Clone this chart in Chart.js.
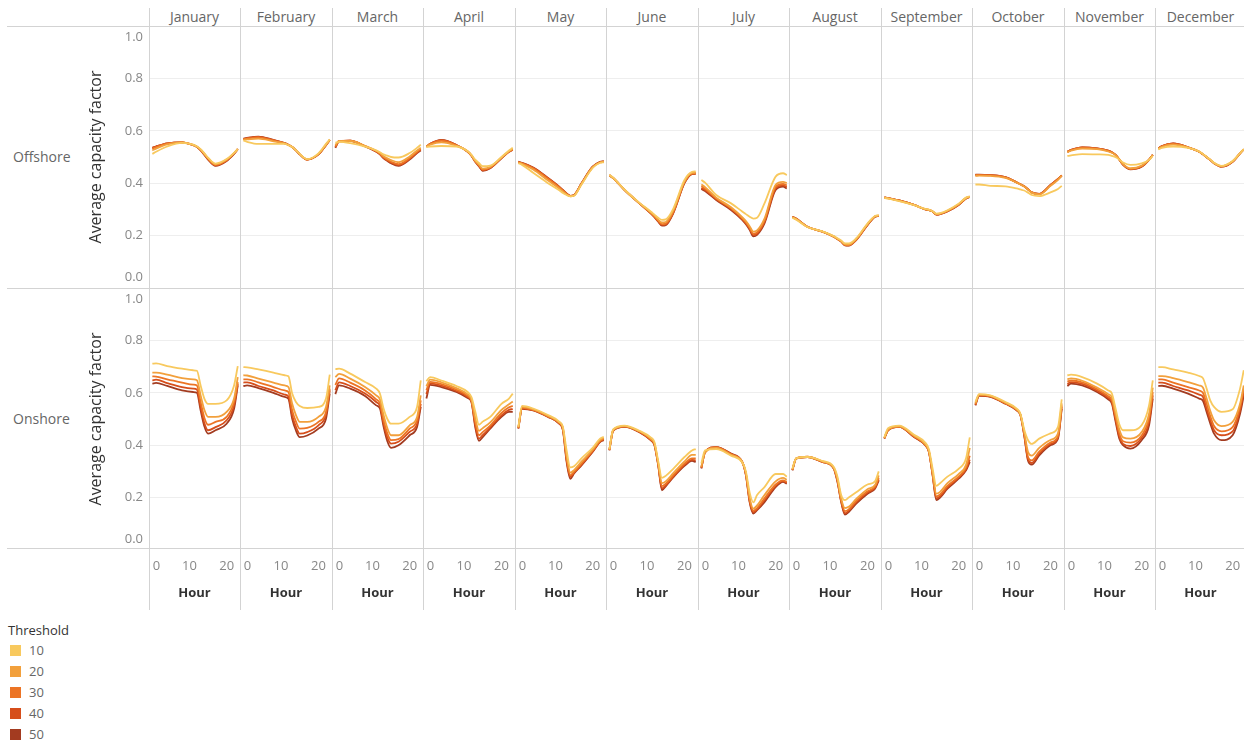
<!DOCTYPE html>
<html>
<head>
<meta charset="utf-8">
<script src="https://cdn.jsdelivr.net/npm/chart.js@4.4.1/dist/chart.umd.min.js"></script>
<style>
  body { margin: 0; background: #fff; font-family: "Open Sans", sans-serif; }
  #stage { position: relative; width: 1244px; height: 747px; overflow: hidden; }
  canvas { position: absolute; z-index: 1; }
  .vline { position: absolute; width: 1px; background: #d3d3d3; z-index: 2; }
  .hline { position: absolute; height: 1px; background: #d3d3d3; z-index: 2; }
  .month { position: absolute; top: 8px; height: 18px; line-height: 18px; text-align: center; font-size: 14px; color: #666; }
  .rowlabel { position: absolute; left: 13px; font-size: 14px; color: #666; line-height: 18px; }
  .legend-title { position: absolute; left: 8px; top: 621px; font-size: 13px; color: #333; }
  .legend-item { position: absolute; left: 10px; font-size: 13px; color: #666; line-height: 18px; }
  .legend-item span { display: inline-block; width: 11px; height: 11px; margin-right: 8px; vertical-align: -1px; }
</style>
</head>
<body>
<div id="stage"></div>
<script>
// ---- data ----
const MONTHS = ["January", "February", "March", "April", "May", "June",
  "July", "August", "September", "October", "November", "December"];
const ROWS = ["Offshore", "Onshore"];
const THRESHOLDS = [10, 20, 30, 40, 50];
const HOURS = [0, 1, 4, 8, 11, 12, 13, 14, 15, 17, 20, 22, 23];
const Y_TICKS = [0, 0.2, 0.4, 0.6, 0.8, 1.0];
const HOUR_TICKS = [0, 10, 20];

// offshore, one row per threshold (10, 20, 30, 40, 50), values at HOURS
const OFF_JAN = [
  [.512,.52,.54,.554,.547,.54,.53,.514,.498,.475,.492,.516,.53],
  [.525,.532,.548,.556,.546,.54,.528,.512,.496,.472,.49,.515,.53],
  [.532,.538,.551,.556,.546,.539,.527,.511,.494,.47,.488,.514,.53],
  [.535,.54,.552,.556,.545,.538,.526,.51,.492,.468,.487,.513,.53],
  [.535,.54,.552,.556,.545,.538,.525,.508,.49,.466,.485,.512,.53]];
const OFF_FEB = [
  [.563,.558,.55,.55,.55,.545,.538,.526,.512,.492,.514,.55,.567],
  [.566,.567,.57,.56,.552,.546,.538,.525,.511,.491,.512,.547,.565],
  [.567,.57,.575,.563,.552,.546,.538,.525,.511,.49,.511,.546,.565],
  [.568,.572,.577,.564,.553,.547,.538,.525,.51,.49,.51,.545,.565],
  [.57,.573,.578,.565,.553,.547,.538,.525,.51,.49,.51,.545,.565]];
const OFF_MAR = [
  [.555,.558,.553,.54,.525,.518,.51,.505,.5,.498,.515,.535,.547],
  [.545,.561,.561,.543,.524,.515,.503,.495,.488,.48,.502,.525,.535],
  [.54,.561,.562,.542,.522,.512,.499,.49,.482,.473,.496,.52,.531],
  [.538,.56,.562,.541,.521,.511,.497,.487,.479,.469,.493,.517,.528],
  [.535,.56,.562,.54,.52,.51,.495,.485,.476,.466,.49,.515,.525]];
const OFF_APR = [
  [.538,.54,.542,.54,.522,.508,.49,.477,.465,.467,.5,.525,.535],
  [.54,.547,.556,.543,.522,.507,.486,.471,.456,.462,.498,.522,.531],
  [.54,.549,.562,.545,.521,.506,.484,.468,.452,.46,.497,.521,.529],
  [.54,.55,.564,.546,.52,.505,.483,.466,.449,.458,.496,.52,.528],
  [.54,.55,.565,.546,.52,.505,.482,.465,.447,.457,.495,.52,.527]];
const OFF_MAY = [
  [.476,.47,.44,.4,.373,.363,.355,.35,.352,.395,.458,.478,.48],
  [.479,.474,.452,.41,.38,.368,.357,.35,.353,.397,.46,.479,.481],
  [.48,.476,.457,.417,.385,.372,.359,.351,.354,.398,.461,.48,.482],
  [.481,.477,.459,.419,.386,.373,.36,.352,.355,.399,.462,.481,.483],
  [.482,.478,.46,.42,.387,.374,.361,.352,.355,.4,.463,.482,.484]];
const OFF_JUN = [
  [.432,.421,.376,.325,.292,.28,.268,.26,.262,.302,.412,.443,.445],
  [.43,.42,.375,.324,.289,.276,.261,.25,.252,.295,.407,.439,.44],
  [.43,.42,.375,.323,.287,.273,.257,.244,.246,.29,.404,.437,.438],
  [.43,.42,.375,.323,.286,.271,.255,.241,.243,.287,.402,.436,.437],
  [.43,.42,.375,.323,.285,.27,.253,.238,.24,.285,.4,.435,.436]];
const OFF_JUL = [
  [.412,.402,.355,.323,.292,.282,.272,.265,.268,.323,.425,.438,.431],
  [.395,.385,.345,.308,.27,.255,.236,.215,.22,.265,.394,.405,.4],
  [.388,.379,.342,.304,.266,.25,.23,.207,.212,.257,.386,.397,.392],
  [.382,.374,.339,.301,.263,.246,.226,.202,.207,.252,.38,.392,.386],
  [.378,.37,.336,.298,.26,.243,.222,.197,.203,.247,.374,.387,.38]];
const OFF_AUG = [
  [.268,.261,.233,.216,.198,.19,.181,.17,.17,.19,.246,.275,.278],
  [.27,.263,.233,.215,.197,.188,.179,.167,.166,.187,.244,.274,.277],
  [.271,.264,.234,.215,.196,.187,.178,.165,.164,.185,.242,.273,.276],
  [.272,.265,.234,.215,.196,.187,.177,.164,.163,.184,.241,.272,.275],
  [.272,.265,.234,.215,.196,.187,.177,.163,.162,.183,.24,.272,.275]];
const OFF_SEP = [
  [.344,.341,.332,.316,.302,.299,.293,.284,.286,.297,.322,.345,.35],
  [.345,.342,.333,.317,.301,.298,.292,.282,.284,.295,.32,.344,.349],
  [.346,.343,.334,.317,.301,.298,.292,.281,.283,.294,.319,.343,.349],
  [.346,.343,.334,.317,.3,.297,.292,.28,.282,.293,.318,.342,.348],
  [.346,.343,.334,.317,.3,.297,.292,.28,.282,.292,.317,.342,.348]];
const OFF_OCT = [
  [.395,.395,.39,.388,.38,.376,.372,.364,.355,.351,.365,.378,.39],
  [.428,.429,.428,.42,.402,.395,.387,.376,.364,.357,.39,.413,.428],
  [.43,.431,.43,.422,.403,.396,.388,.377,.365,.358,.392,.415,.43],
  [.432,.432,.431,.423,.403,.396,.388,.377,.365,.359,.393,.416,.43],
  [.433,.433,.431,.423,.403,.396,.388,.377,.365,.359,.393,.416,.429]];
const OFF_NOV = [
  [.504,.506,.511,.51,.508,.504,.499,.49,.479,.47,.476,.489,.504],
  [.518,.524,.532,.53,.521,.516,.507,.491,.473,.457,.467,.49,.507],
  [.52,.526,.536,.532,.523,.517,.508,.491,.472,.455,.465,.49,.508],
  [.52,.527,.537,.533,.524,.518,.508,.49,.471,.454,.464,.49,.508],
  [.52,.527,.537,.533,.524,.518,.508,.49,.47,.453,.463,.489,.508]];
const OFF_DEC = [
  [.529,.535,.54,.535,.521,.511,.5,.49,.478,.466,.485,.515,.53],
  [.531,.539,.547,.537,.521,.511,.5,.489,.477,.465,.484,.514,.529],
  [.532,.541,.55,.537,.52,.51,.5,.489,.477,.464,.483,.514,.529],
  [.533,.542,.552,.537,.52,.51,.499,.488,.476,.463,.482,.514,.529],
  [.533,.542,.552,.537,.52,.51,.499,.488,.476,.463,.482,.514,.529]];

// onshore
const ON_JAN = [
  [.711,.712,.702,.692,.686,.684,.628,.578,.558,.558,.571,.628,.702],
  [.677,.677,.669,.656,.651,.648,.59,.535,.508,.508,.527,.578,.66],
  [.663,.662,.651,.639,.631,.628,.565,.505,.478,.489,.508,.565,.641],
  [.647,.65,.637,.622,.616,.612,.546,.485,.457,.469,.495,.552,.635],
  [.635,.638,.626,.609,.603,.6,.533,.472,.444,.457,.482,.539,.628]];
const ON_FEB = [
  [.698,.697,.689,.677,.667,.663,.597,.565,.55,.542,.546,.578,.669],
  [.667,.666,.654,.639,.628,.622,.558,.515,.489,.489,.508,.546,.628],
  [.651,.651,.64,.622,.609,.603,.533,.49,.463,.466,.489,.527,.616],
  [.639,.64,.626,.609,.593,.586,.514,.47,.444,.45,.476,.517,.609],
  [.626,.628,.618,.6,.584,.577,.501,.456,.431,.437,.463,.501,.597]];
const ON_MAR = [
  [.69,.692,.673,.641,.616,.597,.539,.5,.482,.482,.508,.546,.647],
  [.66,.672,.654,.622,.59,.575,.514,.465,.438,.438,.476,.508,.59],
  [.63,.655,.639,.609,.575,.56,.495,.445,.419,.423,.463,.495,.571],
  [.61,.64,.626,.597,.565,.55,.482,.43,.406,.413,.451,.482,.558],
  [.595,.628,.616,.588,.552,.54,.47,.415,.39,.4,.438,.47,.546]];
const ON_APR = [
  [.645,.66,.647,.626,.603,.584,.53,.478,.49,.508,.558,.578,.597],
  [.625,.65,.64,.618,.594,.575,.505,.455,.465,.487,.535,.556,.567],
  [.61,.642,.633,.612,.588,.57,.49,.438,.45,.475,.523,.545,.55],
  [.595,.636,.627,.607,.584,.567,.478,.425,.438,.468,.514,.535,.538],
  [.578,.63,.622,.603,.58,.565,.47,.417,.431,.463,.508,.527,.527]];
const ON_MAY = [
  [.47,.55,.54,.515,.49,.47,.38,.315,.32,.35,.39,.425,.432],
  [.468,.546,.537,.512,.487,.466,.36,.295,.305,.337,.383,.42,.428],
  [.466,.543,.535,.51,.485,.462,.35,.285,.298,.33,.379,.416,.425],
  [.464,.541,.534,.509,.483,.46,.342,.279,.295,.326,.376,.414,.422],
  [.463,.539,.533,.508,.482,.457,.336,.272,.292,.323,.374,.412,.419]];
const ON_JUN = [
  [.385,.46,.475,.455,.43,.412,.34,.275,.283,.31,.355,.38,.385],
  [.383,.458,.473,.453,.425,.407,.332,.255,.262,.293,.338,.363,.363],
  [.382,.457,.472,.452,.422,.404,.328,.244,.253,.285,.33,.35,.35],
  [.381,.456,.471,.451,.42,.402,.325,.235,.247,.28,.325,.344,.342],
  [.38,.455,.47,.45,.419,.4,.323,.228,.243,.277,.321,.34,.336]];
const ON_JUL = [
  [.33,.38,.385,.36,.335,.3,.22,.182,.21,.24,.29,.29,.28],
  [.318,.372,.39,.363,.336,.293,.2,.158,.17,.21,.262,.275,.268],
  [.315,.373,.392,.365,.336,.29,.192,.15,.16,.197,.25,.266,.26],
  [.313,.373,.393,.366,.336,.287,.187,.144,.155,.19,.245,.263,.256],
  [.311,.374,.393,.368,.336,.285,.183,.139,.152,.183,.24,.26,.253]];
const ON_AUG = [
  [.31,.35,.355,.34,.318,.28,.21,.19,.2,.22,.25,.262,.3],
  [.307,.35,.356,.338,.314,.272,.196,.16,.165,.195,.232,.248,.285],
  [.306,.349,.356,.337,.313,.266,.19,.148,.155,.188,.224,.242,.276],
  [.305,.349,.355,.336,.312,.263,.186,.14,.15,.182,.219,.238,.27],
  [.304,.349,.355,.336,.311,.26,.183,.135,.145,.177,.215,.234,.266]];
const ON_SEP = [
  [.43,.465,.475,.44,.41,.385,.31,.245,.255,.28,.31,.35,.43],
  [.428,.46,.472,.436,.404,.378,.295,.215,.222,.255,.29,.325,.39],
  [.427,.458,.471,.434,.402,.376,.29,.205,.212,.245,.28,.315,.36],
  [.426,.457,.47,.432,.401,.375,.287,.197,.205,.239,.276,.309,.345],
  [.425,.457,.47,.431,.4,.374,.285,.19,.2,.234,.272,.304,.336]];
const ON_OCT = [
  [.565,.595,.59,.565,.54,.52,.46,.42,.405,.425,.445,.47,.575],
  [.56,.593,.588,.562,.537,.517,.45,.375,.36,.39,.42,.445,.56],
  [.557,.591,.587,.56,.535,.516,.444,.355,.342,.375,.41,.435,.552],
  [.554,.59,.585,.559,.534,.515,.44,.347,.332,.368,.405,.43,.545],
  [.552,.588,.584,.558,.533,.514,.438,.342,.326,.361,.4,.425,.539]];
const ON_NOV = [
  [.667,.669,.66,.635,.609,.597,.539,.48,.457,.457,.476,.552,.647],
  [.652,.655,.646,.62,.595,.582,.52,.46,.43,.425,.45,.52,.62],
  [.643,.647,.64,.614,.587,.572,.508,.445,.415,.41,.437,.505,.603],
  [.634,.641,.634,.608,.581,.565,.498,.433,.405,.397,.428,.49,.59],
  [.626,.635,.628,.603,.575,.558,.489,.425,.4,.387,.419,.476,.578]];
const ON_DEC = [
  [.698,.698,.689,.677,.664,.656,.616,.57,.546,.527,.537,.616,.686],
  [.664,.664,.656,.641,.628,.62,.578,.53,.495,.473,.489,.558,.628],
  [.651,.651,.639,.622,.609,.6,.558,.51,.473,.453,.469,.546,.616],
  [.639,.639,.626,.609,.593,.585,.539,.495,.457,.438,.453,.533,.603],
  [.626,.627,.616,.597,.578,.57,.527,.482,.444,.419,.438,.52,.59]];

const OFFSHORE = [OFF_JAN, OFF_FEB, OFF_MAR, OFF_APR, OFF_MAY, OFF_JUN,
  OFF_JUL, OFF_AUG, OFF_SEP, OFF_OCT, OFF_NOV, OFF_DEC];
const ONSHORE = [ON_JAN, ON_FEB, ON_MAR, ON_APR, ON_MAY, ON_JUN,
  ON_JUL, ON_AUG, ON_SEP, ON_OCT, ON_NOV, ON_DEC];

// ---- style / layout ----
const LINE_COLORS = ["#F8C95E", "#F2A03C", "#EC7425", "#D64E1B", "#A33B20"];
const COL_X0 = 149, COL_W = 91.45;
const ROW_Y = [26, 288], ROW_H = 262;
const X_MIN = -0.9, X_MAX = 23.6;

Chart.defaults.font.family = '"Open Sans", sans-serif';
Chart.defaults.animation = false;

// pushes the outermost tick labels inward (the way the original keeps them inside the pane)
const nudgeLabels = {
  id: "nudgeLabels",
  beforeDraw(chart, args, opts) {
    (opts.moves || []).forEach(({ scale, index, dx = 0, dy = 0 }) => {
      const items = chart.scales[scale].getLabelItems();
      const item = items[index < 0 ? items.length + index : index];
      if (!item || item._nudged) return;
      item.options.translation[0] += dx;
      item.options.translation[1] += dy;
      item._nudged = true;
    });
  },
};
Chart.register(nudgeLabels);

const stage = document.getElementById("stage");
const colLeft = (i) => Math.round(COL_X0 + i * COL_W);

function addDiv(cls, css, text) {
  const d = document.createElement("div");
  d.className = cls;
  Object.assign(d.style, css);
  if (text !== undefined) d.textContent = text;
  stage.appendChild(d);
  return d;
}

function addCanvas(left, top, w, h) {
  const c = document.createElement("canvas");
  c.width = w;
  c.height = h;
  c.style.left = left + "px";
  c.style.top = top + "px";
  stage.appendChild(c);
  return c;
}

const setTicks = (vals) => (scale) => {
  scale.ticks = vals.map((v) => ({ value: v }));
};

const basePlugins = { legend: { display: false }, tooltip: { enabled: false } };

function renderPanel(canvas, series) {
  new Chart(canvas, {
    type: "line",
    data: {
      datasets: series.map((vals, k) => ({
        label: String(THRESHOLDS[k]),
        data: vals.map((v, j) => ({ x: HOURS[j], y: v })),
        borderColor: LINE_COLORS[k],
        borderWidth: 1.8,
        pointRadius: 0,
        cubicInterpolationMode: "monotone",
        fill: false,
      })),
    },
    options: {
      responsive: false,
      plugins: basePlugins,
      scales: {
        x: { type: "linear", min: X_MIN, max: X_MAX, display: false },
        y: {
          min: 0,
          max: 1,
          afterBuildTicks: setTicks(Y_TICKS),
          ticks: { display: false },
          grid: { color: "#eeeeee", drawTicks: false },
          border: { display: false },
        },
      },
    },
  });
}

function renderYAxis(canvas) {
  new Chart(canvas, {
    type: "line",
    data: { datasets: [] },
    options: {
      responsive: false,
      layout: { padding: { top: 14, bottom: 14, left: 0, right: 0 } },
      plugins: {
        ...basePlugins,
        nudgeLabels: { moves: [{ scale: "y", index: 0, dy: -11 }, { scale: "y", index: -1, dy: 11 }] },
      },
      scales: {
        x: { display: false },
        y: {
          min: 0,
          max: 1,
          position: "left",
          afterBuildTicks: setTicks(Y_TICKS),
          afterFit: (s) => { s.width = 63; },
          grid: { display: false, drawTicks: false },
          border: { display: false },
          ticks: { color: "#888", font: { size: 13 }, padding: 5, callback: (v) => v.toFixed(1) },
          title: {
            display: true,
            text: "Average capacity factor",
            color: "#333",
            font: { size: 16 },
            padding: { top: 2, bottom: 0 },
          },
        },
      },
    },
  });
}

function renderXAxis(canvas) {
  new Chart(canvas, {
    type: "line",
    data: { datasets: [] },
    options: {
      responsive: false,
      layout: { padding: { left: 10, right: 10, top: 0, bottom: 0 } },
      plugins: {
        ...basePlugins,
        nudgeLabels: { moves: [{ scale: "x", index: 0, dx: 4 }] },
      },
      scales: {
        y: { display: false },
        x: {
          type: "linear",
          min: X_MIN,
          max: X_MAX,
          position: "bottom",
          afterBuildTicks: setTicks(HOUR_TICKS),
          afterFit: (s) => { s.height = 52; },
          grid: { display: false, drawTicks: false },
          border: { display: false },
          ticks: { color: "#888", font: { size: 13 }, padding: 5, maxRotation: 0, autoSkip: false },
          title: {
            display: true,
            text: "Hour",
            color: "#333",
            font: { size: 13, weight: "bold" },
            padding: { top: 12, bottom: 4 },
          },
        },
      },
    },
  });
}

// ---- build ----
MONTHS.forEach((m, i) => {
  const x = colLeft(i);
  const w = colLeft(i + 1) - x;
  addDiv("month", { left: x + "px", width: w + "px" }, m);
  renderPanel(addCanvas(x, ROW_Y[0], w, ROW_H), OFFSHORE[i]);
  renderPanel(addCanvas(x, ROW_Y[1], w, ROW_H), ONSHORE[i]);
  renderXAxis(addCanvas(x - 10, 548, w + 20, 57));
  addDiv("vline", { left: x + "px", top: "8px", height: "602px" });
});

ROWS.forEach((r, k) => {
  addDiv("rowlabel", { top: ROW_Y[k] + ROW_H / 2 - 9 + "px" }, r);
  renderYAxis(addCanvas(85, ROW_Y[k] - 14, 64, ROW_H + 28));
});

[26, 288, 548].forEach((y) => addDiv("hline", { left: "7px", top: y + "px", width: "1237px" }));

addDiv("legend-title", {}, "Threshold");
THRESHOLDS.forEach((t, k) => {
  const item = addDiv("legend-item", { top: 641 + k * 21 + "px" });
  const sw = document.createElement("span");
  sw.style.background = LINE_COLORS[k];
  item.appendChild(sw);
  item.appendChild(document.createTextNode(String(t)));
});
</script>
</body>
</html>
